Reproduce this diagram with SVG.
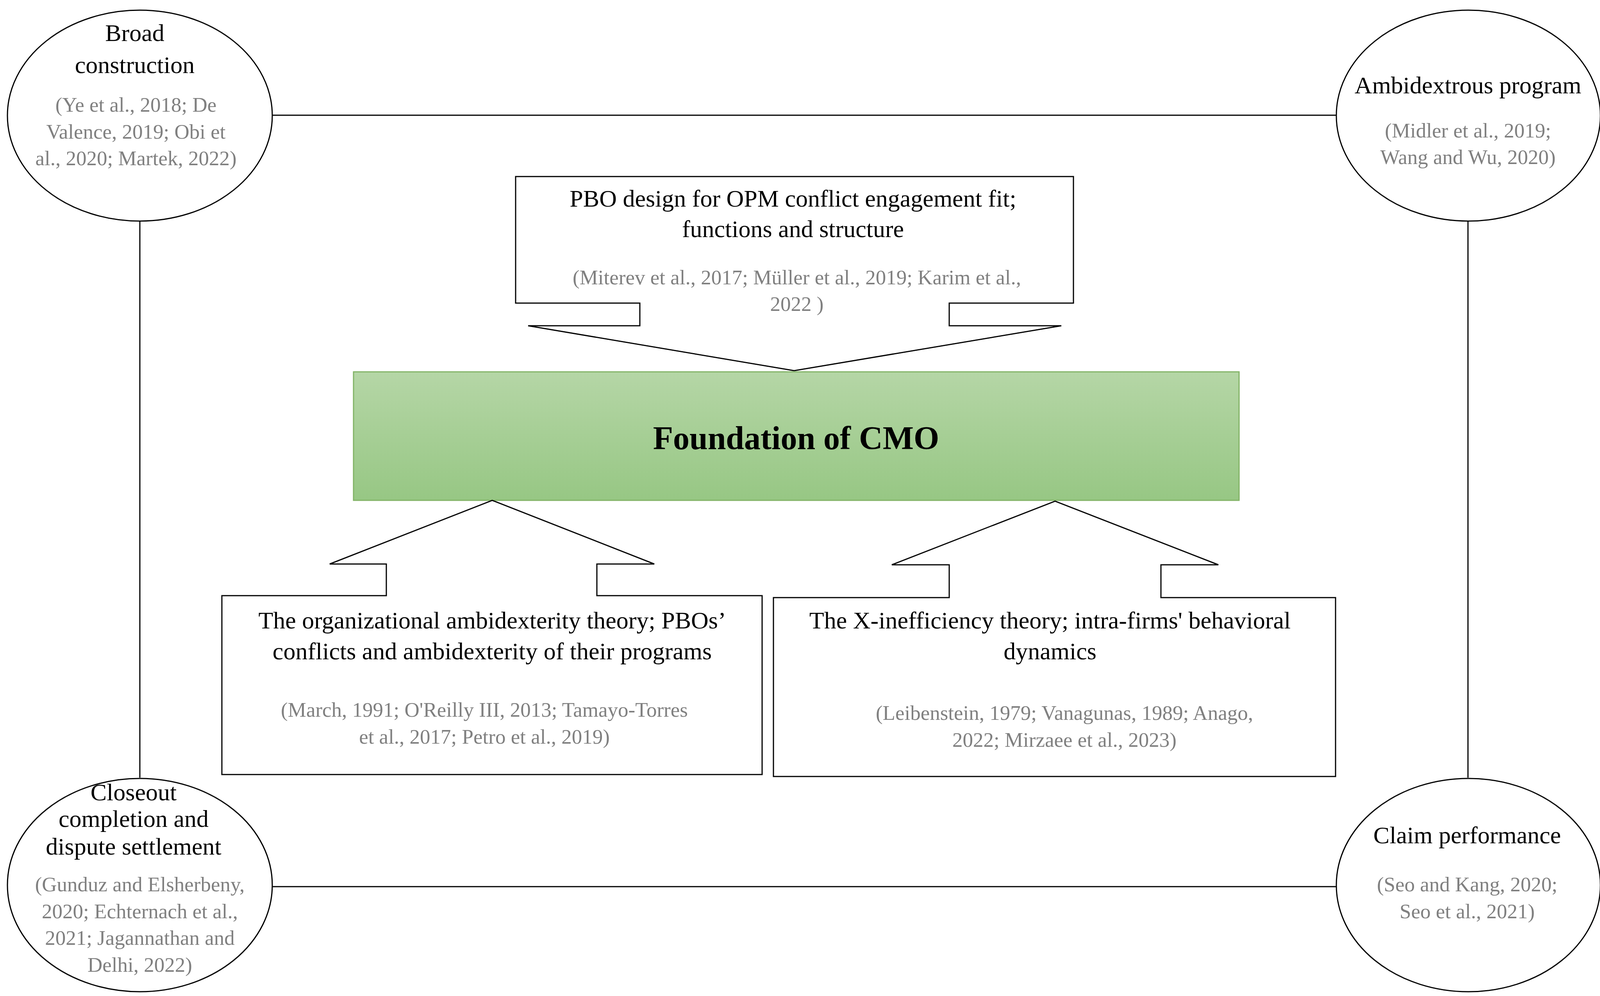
<svg xmlns="http://www.w3.org/2000/svg" width="4115" height="2550" viewBox="0 0 4115 2550">
<style>
.s{fill:#fff;stroke:#000;stroke-width:3}
.t{font-family:"Liberation Serif",serif;font-size:62px;fill:#000;text-anchor:middle}
.g{font-family:"Liberation Serif",serif;font-size:53px;fill:#808080;text-anchor:middle}
.c{stroke:#000;stroke-width:3;fill:none}
</style>
<defs>
<linearGradient id="gr" x1="0" y1="0" x2="0" y2="1"><stop offset="0" stop-color="#b5d6a6"/><stop offset="1" stop-color="#97c784"/></linearGradient>
</defs>
<rect width="4115" height="2550" fill="#fff"/>
<g id="connectors">
<line class="c" x1="697" y1="295" x2="3421" y2="295"/>
<line class="c" x1="697" y1="2270" x2="3421" y2="2270"/>
<line class="c" x1="358" y1="565" x2="358" y2="1991"/>
<line class="c" x1="3758" y1="565" x2="3758" y2="1991"/>
</g>
<g id="broad">
<ellipse class="s" cx="358" cy="296" rx="339" ry="270"/>
<text class="t" x="345" y="105">Broad</text>
<text class="t" x="345" y="187">construction</text>
<text class="g" x="348" y="286">(Ye et al., 2018; De</text>
<text class="g" x="348" y="355">Valence, 2019; Obi et</text>
<text class="g" x="348" y="423">al., 2020; Martek, 2022)</text>
</g>
<g id="ambi">
<ellipse class="s" cx="3759" cy="296" rx="338" ry="270"/>
<text class="t" x="3758" y="239">Ambidextrous program</text>
<text class="g" x="3758" y="352">(Midler et al., 2019;</text>
<text class="g" x="3758" y="420">Wang and Wu, 2020)</text>
</g>
<g id="closeout">
<ellipse class="s" cx="358" cy="2266" rx="339" ry="273"/>
<text class="t" x="342" y="2049">Closeout</text>
<text class="t" x="342" y="2117">completion and</text>
<text class="t" x="342" y="2188">dispute settlement</text>
<text class="g" x="358" y="2282">(Gunduz and Elsherbeny,</text>
<text class="g" x="358" y="2351">2020; Echternach et al.,</text>
<text class="g" x="358" y="2419">2021; Jagannathan and</text>
<text class="g" x="358" y="2488">Delhi, 2022)</text>
</g>
<g id="claim">
<ellipse class="s" cx="3759" cy="2266" rx="338" ry="273"/>
<text class="t" x="3756" y="2159">Claim performance</text>
<text class="g" x="3756" y="2282">(Seo and Kang, 2020;</text>
<text class="g" x="3756" y="2351">Seo et al., 2021)</text>
</g>
<g id="pbo">
<path class="s" d="M1320,452 H2748 V776 H2430 V834 H2717 L2033,949 L1352,834 H1638 V776 H1320 Z"/>
<text class="t" x="2030" y="529">PBO design for OPM conflict engagement fit;</text>
<text class="t" x="2030" y="607">functions and structure</text>
<text class="g" x="2040" y="728">(Miterev et al., 2017; Müller et al., 2019; Karim et al.,</text>
<text class="g" x="2040" y="796">2022 )</text>
</g>
<g id="foundation">
<rect x="905" y="952" width="2267" height="329" fill="url(#gr)" stroke="#82b366" stroke-width="3"/>
<text x="2038" y="1150" style="font-family:'Liberation Serif',serif;font-size:84px;font-weight:bold;text-anchor:middle">Foundation of CMO</text>
</g>
<g id="ambitheory">
<path class="s" d="M568,1525 H989 V1444 H844 L1260,1281 L1675,1444 H1528 V1525 H1951 V1983 H568 Z"/>
<text class="t" x="1260" y="1609">The organizational ambidexterity theory; PBOs’</text>
<text class="t" x="1260" y="1688">conflicts and ambidexterity of their programs</text>
<text class="g" x="1240" y="1835">(March, 1991; O'Reilly III, 2013; Tamayo-Torres</text>
<text class="g" x="1240" y="1904">et al., 2017; Petro et al., 2019)</text>
</g>
<g id="xineff">
<path class="s" d="M1980,1530 H2430 V1446 H2283 L2701,1283 L3119,1446 H2972 V1530 H3419 V1988 H1980 Z"/>
<text class="t" x="2688" y="1609">The X-inefficiency theory; intra-firms' behavioral</text>
<text class="t" x="2688" y="1688">dynamics</text>
<text class="g" x="2725" y="1843">(Leibenstein, 1979; Vanagunas, 1989; Anago,</text>
<text class="g" x="2725" y="1912">2022; Mirzaee et al., 2023)</text>
</g>
</svg>
